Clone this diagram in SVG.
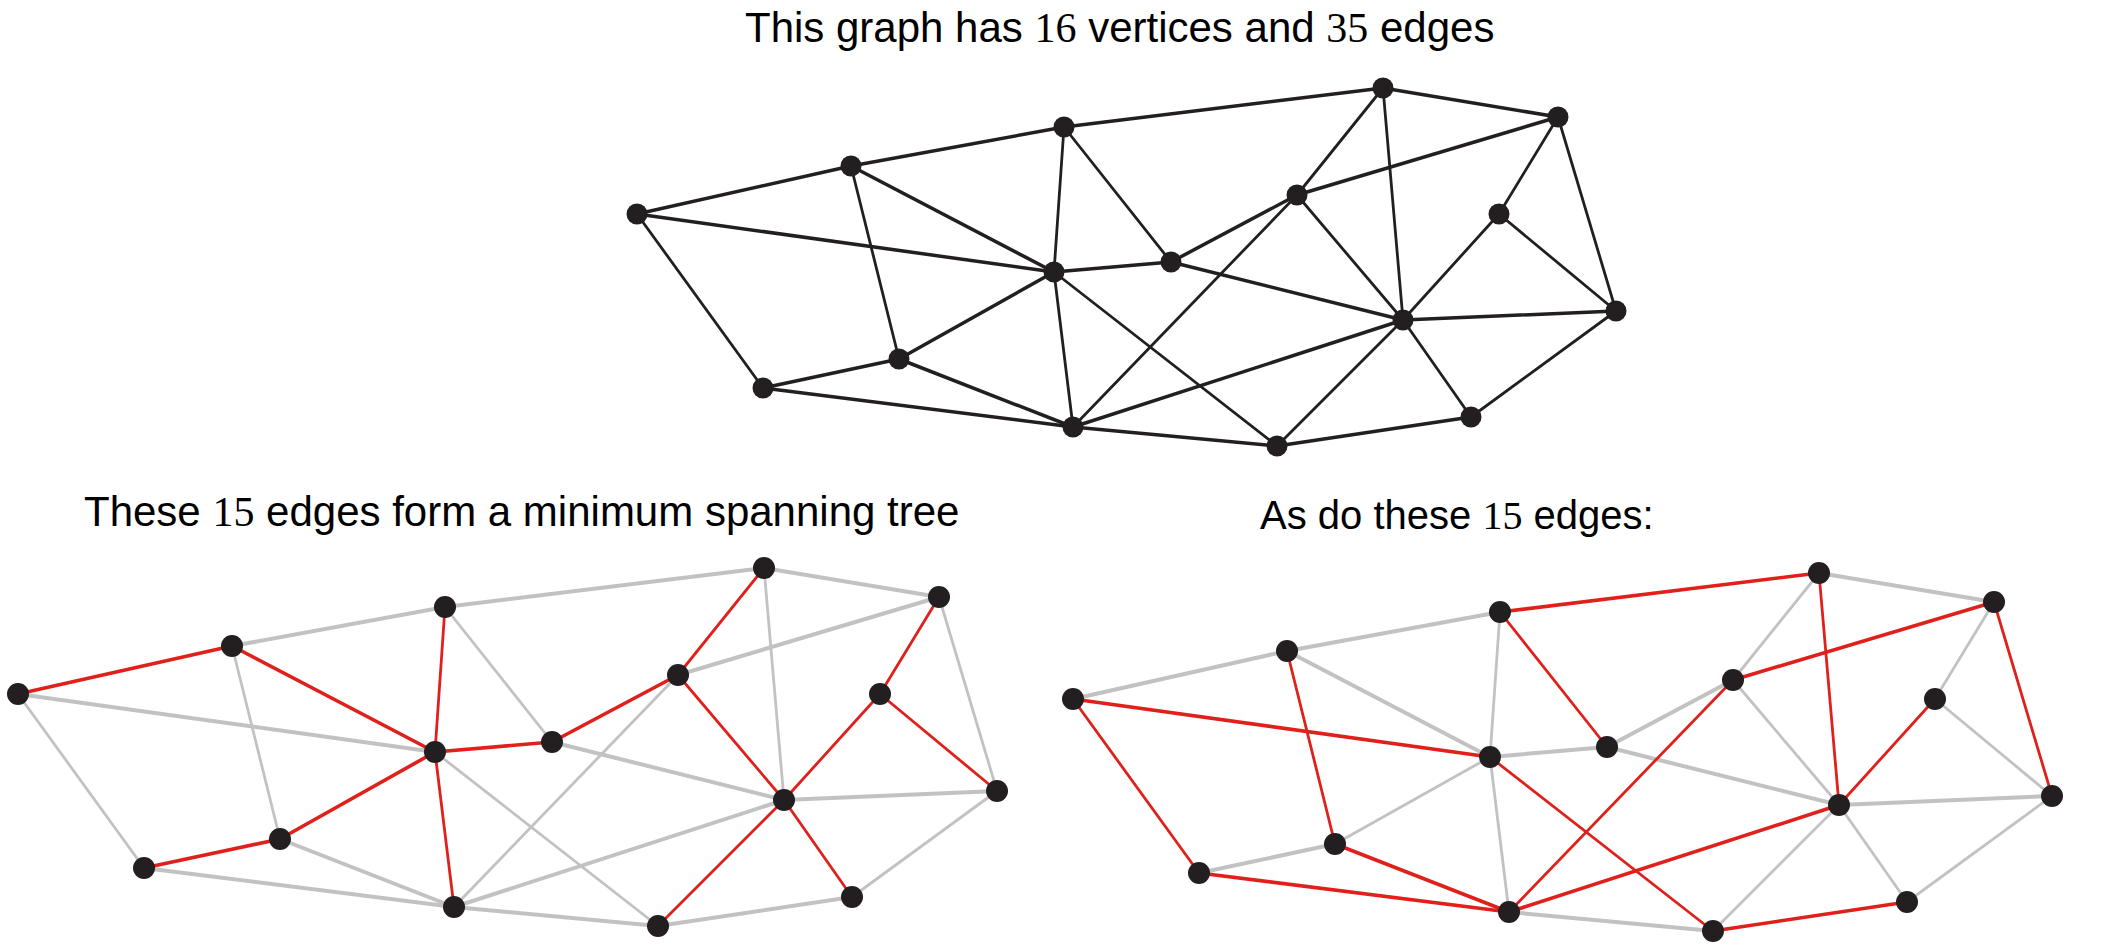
<svg xmlns="http://www.w3.org/2000/svg" width="2108" height="948" viewBox="0 0 2108 948">
<style>
text{font-family:"Liberation Sans",Arial,sans-serif;fill:#000}
.num{font-family:"Liberation Serif","Times New Roman",serif}
line{fill:none;stroke-linecap:round}
.k{stroke:#231f20}
.g{stroke:#c2c2c2}
.r{stroke:#e0201b}
.kt{stroke-width:3.5}.kn{stroke-width:2.8}
.gt{stroke-width:4}.gn{stroke-width:2.8}
.rt{stroke-width:3.6}.rn{stroke-width:2.8}
circle{fill:#231f20}
</style>
<rect width="2108" height="948" fill="#fff"/>
<text x="745" y="42" font-size="42">This graph has <tspan class="num">16</tspan> vertices and <tspan class="num">35</tspan> edges</text>
<text x="84" y="526" font-size="42">These <tspan class="num">15</tspan> edges form a minimum spanning tree</text>
<text x="1260" y="529" font-size="40">As do these <tspan class="num">15</tspan> edges:</text>

<!-- Top graph -->
<g id="graph-full">
<g id="edges-full" class="k">
<line class="kt" x1="637" y1="214" x2="851" y2="166"/>
<line class="kt" x1="851" y1="166" x2="1064" y2="127"/>
<line class="kt" x1="1064" y1="127" x2="1383" y2="88"/>
<line class="kt" x1="1383" y1="88" x2="1558" y2="117"/>
<line class="kt" x1="637" y1="214" x2="1054" y2="272"/>
<line class="kt" x1="851" y1="166" x2="1054" y2="272"/>
<line class="kt" x1="1054" y1="272" x2="1171" y2="262"/>
<line class="kt" x1="1171" y1="262" x2="1297" y2="195"/>
<line class="kt" x1="1558" y1="117" x2="1297" y2="195"/>
<line class="kt" x1="1171" y1="262" x2="1403" y2="320"/>
<line class="kt" x1="1403" y1="320" x2="1616" y2="311"/>
<line class="kt" x1="1403" y1="320" x2="1073" y2="427"/>
<line class="kt" x1="763" y1="388" x2="899" y2="359"/>
<line class="kt" x1="763" y1="388" x2="1073" y2="427"/>
<line class="kt" x1="899" y1="359" x2="1073" y2="427"/>
<line class="kt" x1="1073" y1="427" x2="1277" y2="446"/>
<line class="kt" x1="1277" y1="446" x2="1471" y2="417"/>
<line class="kt" x1="1054" y1="272" x2="899" y2="359"/>
<line class="kn" x1="637" y1="214" x2="763" y2="388"/>
<line class="kn" x1="851" y1="166" x2="899" y2="359"/>
<line class="kn" x1="1064" y1="127" x2="1054" y2="272"/>
<line class="kn" x1="1064" y1="127" x2="1171" y2="262"/>
<line class="kn" x1="1383" y1="88" x2="1297" y2="195"/>
<line class="kn" x1="1383" y1="88" x2="1403" y2="320"/>
<line class="kn" x1="1558" y1="117" x2="1499" y2="214"/>
<line class="kn" x1="1558" y1="117" x2="1616" y2="311"/>
<line class="kn" x1="1297" y1="195" x2="1403" y2="320"/>
<line class="kn" x1="1297" y1="195" x2="1073" y2="427"/>
<line class="kn" x1="1499" y1="214" x2="1403" y2="320"/>
<line class="kn" x1="1499" y1="214" x2="1616" y2="311"/>
<line class="kn" x1="1054" y1="272" x2="1073" y2="427"/>
<line class="kn" x1="1054" y1="272" x2="1277" y2="446"/>
<line class="kn" x1="1403" y1="320" x2="1277" y2="446"/>
<line class="kn" x1="1403" y1="320" x2="1471" y2="417"/>
<line class="kn" x1="1616" y1="311" x2="1471" y2="417"/>
</g>
<g id="nodes-full">
<g id="t-A"><circle cx="637" cy="214" r="10.5"/></g>
<g id="t-B"><circle cx="851" cy="166" r="10.5"/></g>
<g id="t-C"><circle cx="1064" cy="127" r="10.5"/></g>
<g id="t-D"><circle cx="1383" cy="88" r="10.5"/></g>
<g id="t-E"><circle cx="1558" cy="117" r="10.5"/></g>
<g id="t-F"><circle cx="1297" cy="195" r="10.5"/></g>
<g id="t-G"><circle cx="1499" cy="214" r="10.5"/></g>
<g id="t-H"><circle cx="1054" cy="272" r="10.5"/></g>
<g id="t-I"><circle cx="1171" cy="262" r="10.5"/></g>
<g id="t-J"><circle cx="1403" cy="320" r="10.5"/></g>
<g id="t-K"><circle cx="1616" cy="311" r="10.5"/></g>
<g id="t-L"><circle cx="763" cy="388" r="10.5"/></g>
<g id="t-M"><circle cx="899" cy="359" r="10.5"/></g>
<g id="t-N"><circle cx="1073" cy="427" r="10.5"/></g>
<g id="t-O"><circle cx="1277" cy="446" r="10.5"/></g>
<g id="t-P"><circle cx="1471" cy="417" r="10.5"/></g>
</g>
</g>

<!-- Bottom-left graph: MST 1 -->
<g id="graph-mst1" transform="translate(-619,480)">
<g id="edges-mst1">
<line class="g gt" x1="851" y1="166" x2="1064" y2="127"/>
<line class="g gt" x1="1064" y1="127" x2="1383" y2="88"/>
<line class="g gt" x1="1383" y1="88" x2="1558" y2="117"/>
<line class="g gt" x1="637" y1="214" x2="1054" y2="272"/>
<line class="g gt" x1="1558" y1="117" x2="1297" y2="195"/>
<line class="g gt" x1="1171" y1="262" x2="1403" y2="320"/>
<line class="g gt" x1="1403" y1="320" x2="1616" y2="311"/>
<line class="g gt" x1="1403" y1="320" x2="1073" y2="427"/>
<line class="g gt" x1="763" y1="388" x2="1073" y2="427"/>
<line class="g gt" x1="899" y1="359" x2="1073" y2="427"/>
<line class="g gt" x1="1073" y1="427" x2="1277" y2="446"/>
<line class="g gt" x1="1277" y1="446" x2="1471" y2="417"/>
<line class="g gn" x1="637" y1="214" x2="763" y2="388"/>
<line class="g gn" x1="851" y1="166" x2="899" y2="359"/>
<line class="g gn" x1="1064" y1="127" x2="1171" y2="262"/>
<line class="g gn" x1="1383" y1="88" x2="1403" y2="320"/>
<line class="g gn" x1="1558" y1="117" x2="1616" y2="311"/>
<line class="g gn" x1="1297" y1="195" x2="1073" y2="427"/>
<line class="g gn" x1="1054" y1="272" x2="1277" y2="446"/>
<line class="g gn" x1="1616" y1="311" x2="1471" y2="417"/>
<line class="r rt" x1="637" y1="214" x2="851" y2="166"/>
<line class="r rt" x1="851" y1="166" x2="1054" y2="272"/>
<line class="r rn" x1="1064" y1="127" x2="1054" y2="272"/>
<line class="r rt" x1="1054" y1="272" x2="1171" y2="262"/>
<line class="r rt" x1="1171" y1="262" x2="1297" y2="195"/>
<line class="r rn" x1="1383" y1="88" x2="1297" y2="195"/>
<line class="r rn" x1="1297" y1="195" x2="1403" y2="320"/>
<line class="r rn" x1="1558" y1="117" x2="1499" y2="214"/>
<line class="r rn" x1="1499" y1="214" x2="1403" y2="320"/>
<line class="r rn" x1="1499" y1="214" x2="1616" y2="311"/>
<line class="r rt" x1="1054" y1="272" x2="899" y2="359"/>
<line class="r rt" x1="763" y1="388" x2="899" y2="359"/>
<line class="r rn" x1="1054" y1="272" x2="1073" y2="427"/>
<line class="r rn" x1="1403" y1="320" x2="1277" y2="446"/>
<line class="r rn" x1="1403" y1="320" x2="1471" y2="417"/>
</g>
<g id="nodes-mst1">
<g id="a-A"><circle cx="637" cy="214" r="11"/></g>
<g id="a-B"><circle cx="851" cy="166" r="11"/></g>
<g id="a-C"><circle cx="1064" cy="127" r="11"/></g>
<g id="a-D"><circle cx="1383" cy="88" r="11"/></g>
<g id="a-E"><circle cx="1558" cy="117" r="11"/></g>
<g id="a-F"><circle cx="1297" cy="195" r="11"/></g>
<g id="a-G"><circle cx="1499" cy="214" r="11"/></g>
<g id="a-H"><circle cx="1054" cy="272" r="11"/></g>
<g id="a-I"><circle cx="1171" cy="262" r="11"/></g>
<g id="a-J"><circle cx="1403" cy="320" r="11"/></g>
<g id="a-K"><circle cx="1616" cy="311" r="11"/></g>
<g id="a-L"><circle cx="763" cy="388" r="11"/></g>
<g id="a-M"><circle cx="899" cy="359" r="11"/></g>
<g id="a-N"><circle cx="1073" cy="427" r="11"/></g>
<g id="a-O"><circle cx="1277" cy="446" r="11"/></g>
<g id="a-P"><circle cx="1471" cy="417" r="11"/></g>
</g>
</g>

<!-- Bottom-right graph: MST 2 -->
<g id="graph-mst2" transform="translate(436,485)">
<g id="edges-mst2">
<line class="g gt" x1="637" y1="214" x2="851" y2="166"/>
<line class="g gt" x1="851" y1="166" x2="1064" y2="127"/>
<line class="g gt" x1="1383" y1="88" x2="1558" y2="117"/>
<line class="g gt" x1="851" y1="166" x2="1054" y2="272"/>
<line class="g gt" x1="1054" y1="272" x2="1171" y2="262"/>
<line class="g gt" x1="1171" y1="262" x2="1297" y2="195"/>
<line class="g gt" x1="1171" y1="262" x2="1403" y2="320"/>
<line class="g gt" x1="1403" y1="320" x2="1616" y2="311"/>
<line class="g gt" x1="763" y1="388" x2="899" y2="359"/>
<line class="g gt" x1="1073" y1="427" x2="1277" y2="446"/>
<line class="g gn" x1="1054" y1="272" x2="899" y2="359"/>
<line class="g gn" x1="1064" y1="127" x2="1054" y2="272"/>
<line class="g gn" x1="1383" y1="88" x2="1297" y2="195"/>
<line class="g gn" x1="1558" y1="117" x2="1499" y2="214"/>
<line class="g gn" x1="1297" y1="195" x2="1403" y2="320"/>
<line class="g gn" x1="1499" y1="214" x2="1616" y2="311"/>
<line class="g gn" x1="1054" y1="272" x2="1073" y2="427"/>
<line class="g gn" x1="1403" y1="320" x2="1277" y2="446"/>
<line class="g gn" x1="1403" y1="320" x2="1471" y2="417"/>
<line class="g gn" x1="1616" y1="311" x2="1471" y2="417"/>
<line class="r rt" x1="1064" y1="127" x2="1383" y2="88"/>
<line class="r rt" x1="637" y1="214" x2="1054" y2="272"/>
<line class="r rt" x1="1558" y1="117" x2="1297" y2="195"/>
<line class="r rt" x1="1403" y1="320" x2="1073" y2="427"/>
<line class="r rt" x1="763" y1="388" x2="1073" y2="427"/>
<line class="r rt" x1="899" y1="359" x2="1073" y2="427"/>
<line class="r rt" x1="1277" y1="446" x2="1471" y2="417"/>
<line class="r rn" x1="1064" y1="127" x2="1171" y2="262"/>
<line class="r rn" x1="1383" y1="88" x2="1403" y2="320"/>
<line class="r rn" x1="637" y1="214" x2="763" y2="388"/>
<line class="r rn" x1="851" y1="166" x2="899" y2="359"/>
<line class="r rn" x1="1297" y1="195" x2="1073" y2="427"/>
<line class="r rn" x1="1499" y1="214" x2="1403" y2="320"/>
<line class="r rn" x1="1558" y1="117" x2="1616" y2="311"/>
<line class="r rn" x1="1054" y1="272" x2="1277" y2="446"/>
</g>
<g id="nodes-mst2">
<g id="b-A"><circle cx="637" cy="214" r="11"/></g>
<g id="b-B"><circle cx="851" cy="166" r="11"/></g>
<g id="b-C"><circle cx="1064" cy="127" r="11"/></g>
<g id="b-D"><circle cx="1383" cy="88" r="11"/></g>
<g id="b-E"><circle cx="1558" cy="117" r="11"/></g>
<g id="b-F"><circle cx="1297" cy="195" r="11"/></g>
<g id="b-G"><circle cx="1499" cy="214" r="11"/></g>
<g id="b-H"><circle cx="1054" cy="272" r="11"/></g>
<g id="b-I"><circle cx="1171" cy="262" r="11"/></g>
<g id="b-J"><circle cx="1403" cy="320" r="11"/></g>
<g id="b-K"><circle cx="1616" cy="311" r="11"/></g>
<g id="b-L"><circle cx="763" cy="388" r="11"/></g>
<g id="b-M"><circle cx="899" cy="359" r="11"/></g>
<g id="b-N"><circle cx="1073" cy="427" r="11"/></g>
<g id="b-O"><circle cx="1277" cy="446" r="11"/></g>
<g id="b-P"><circle cx="1471" cy="417" r="11"/></g>
</g>
</g>
</svg>
